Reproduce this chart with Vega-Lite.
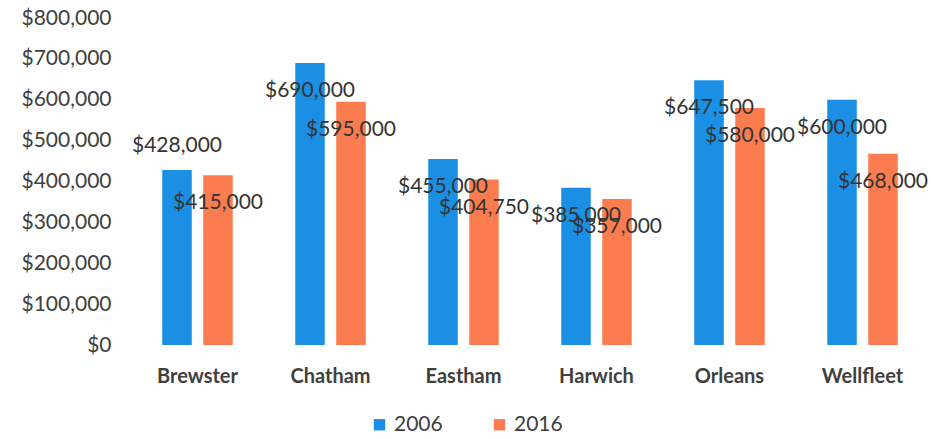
{
  "$schema": "https://vega.github.io/schema/vega-lite/v6.json",
  "autosize": "none",
  "width": 798,
  "height": 327,
  "padding": {"left": 131, "top": 18, "right": 2, "bottom": 94},
  "background": "white",
  "config": {"view": {"stroke": null}, "font": "Lato"},
  "data": {
    "values": [
      {"town": "Brewster", "year": "2006", "price": 428000},
      {"town": "Brewster", "year": "2016", "price": 415000},
      {"town": "Chatham", "year": "2006", "price": 690000},
      {"town": "Chatham", "year": "2016", "price": 595000},
      {"town": "Eastham", "year": "2006", "price": 455000},
      {"town": "Eastham", "year": "2016", "price": 404750},
      {"town": "Harwich", "year": "2006", "price": 385000},
      {"town": "Harwich", "year": "2016", "price": 357000},
      {"town": "Orleans", "year": "2006", "price": 647500},
      {"town": "Orleans", "year": "2016", "price": 580000},
      {"town": "Wellfleet", "year": "2006", "price": 600000},
      {"town": "Wellfleet", "year": "2016", "price": 468000}
    ]
  },
  "encoding": {
    "x": {
      "field": "town", "type": "nominal", "sort": null,
      "scale": {"paddingInner": 0.47, "paddingOuter": 0.235},
      "axis": {"title": null, "labelAngle": 0, "domain": false, "ticks": false, "labelFontSize": 20, "labelFontWeight": "bold", "labelColor": "#404040", "labelPadding": 21}
    },
    "xOffset": {"field": "year", "type": "nominal", "scale": {"paddingInner": 0.28}},
    "y": {
      "field": "price", "type": "quantitative",
      "scale": {"domain": [0, 800000]},
      "axis": {"title": null, "values": [0, 100000, 200000, 300000, 400000, 500000, 600000, 700000, 800000], "format": "$,.0f", "grid": false, "domain": false, "ticks": false, "labelFontSize": 21, "labelColor": "#404040", "labelPadding": 20}
    }
  },
  "layer": [
    {
      "mark": {"type": "bar"},
      "encoding": {
        "color": {
          "field": "year", "type": "nominal",
          "scale": {"domain": ["2006", "2016"], "range": ["#1a8fe3", "#fb7d4f"]},
          "legend": {"title": null, "orient": "none", "legendX": 238, "legendY": 396, "direction": "horizontal", "symbolType": "square", "symbolSize": 130, "symbolStrokeWidth": 0, "labelFontSize": 21, "labelColor": "#404040", "columnPadding": 46, "labelOffset": 4}
        }
      }
    },
    {
      "transform": [{"filter": "!(datum.town === 'Brewster' && datum.year === '2006')"}],
      "mark": {"type": "text", "dy": 28, "fontSize": 21, "color": "#333333", "baseline": "middle"},
      "encoding": {
        "text": {"field": "price", "type": "quantitative", "format": "$,.0f"}
      }
    },
    {
      "transform": [{"filter": "datum.town === 'Brewster' && datum.year === '2006'"}],
      "mark": {"type": "text", "dy": -24, "fontSize": 21, "color": "#333333", "baseline": "middle"},
      "encoding": {
        "text": {"field": "price", "type": "quantitative", "format": "$,.0f"}
      }
    }
  ]
}
